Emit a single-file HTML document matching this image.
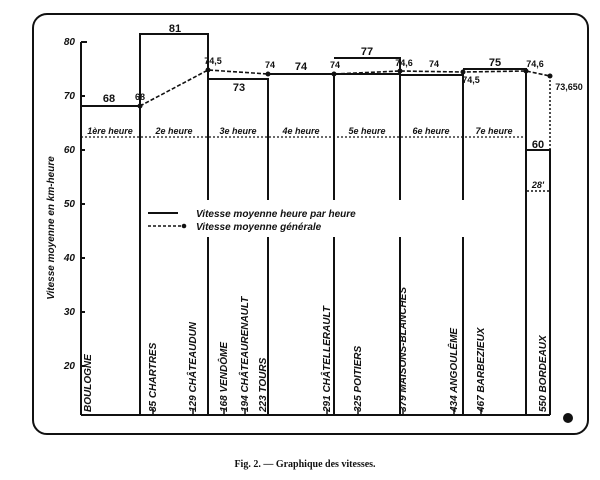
<!DOCTYPE html>
<html><head><meta charset="utf-8"><style>
html,body{margin:0;padding:0;background:#fff;}
svg{display:block}
text{font-family:"Liberation Sans",sans-serif;font-weight:bold;fill:#111}
.i{font-style:italic}
</style></head><body>
<svg width="600" height="480" viewBox="0 0 600 480">
<rect x="33" y="14" width="555" height="420" rx="14" fill="none" stroke="#111" stroke-width="2"/>
<circle cx="568" cy="418" r="5" fill="#111"/>
<g stroke="#111" stroke-width="2" fill="none">
<line x1="81" y1="42" x2="81" y2="415"/>
<line x1="81" y1="415" x2="550" y2="415"/>
<line x1="81" y1="42" x2="87" y2="42"/>
<line x1="81" y1="96" x2="85" y2="96"/>
<line x1="81" y1="150" x2="85" y2="150"/>
<line x1="81" y1="204" x2="85" y2="204"/>
<line x1="81" y1="258" x2="85" y2="258"/>
<line x1="81" y1="312" x2="85" y2="312"/>
<line x1="81" y1="366" x2="85" y2="366"/>
<polyline points="81,106 140,106"/>
<polyline points="140,415 140,34 208,34 208,200"/>
<polyline points="208,79 268,79 268,200"/>
<polyline points="268,74 334,74 334,200"/>
<polyline points="334,58 400,58 400,200"/>
<polyline points="400,75 463,75 463,200"/>
<polyline points="463,69 526,69 526,415"/>
<polyline points="526,150 550,150 550,415"/>
<line x1="268" y1="74" x2="400" y2="74"/>
<line x1="208" y1="237" x2="208" y2="415"/>
<line x1="268" y1="237" x2="268" y2="415"/>
<line x1="334" y1="237" x2="334" y2="415"/>
<line x1="400" y1="237" x2="400" y2="415"/>
<line x1="463" y1="237" x2="463" y2="415"/>
</g>
<polyline points="140,106 208,70 268,74 334,74 400,71 463,72 526,71 550,76" fill="none" stroke="#111" stroke-width="1.6" stroke-dasharray="4,2"/>
<g fill="#111"><circle cx="140" cy="106" r="2.5"/><circle cx="208" cy="70" r="2.5"/><circle cx="268" cy="74" r="2.5"/><circle cx="334" cy="74" r="2.5"/><circle cx="400" cy="71" r="2.5"/><circle cx="463" cy="72" r="2.5"/><circle cx="526" cy="71" r="2.5"/><circle cx="550" cy="76" r="2.5"/></g>
<line x1="550" y1="80" x2="550" y2="150" stroke="#111" stroke-width="1.5" stroke-dasharray="2,2"/>
<line x1="527" y1="191" x2="550" y2="191" stroke="#111" stroke-width="1.5" stroke-dasharray="2,2"/>
<line x1="81" y1="137" x2="526" y2="137" stroke="#111" stroke-width="1.3" stroke-dasharray="2,2"/>
<line x1="148" y1="213" x2="178" y2="213" stroke="#111" stroke-width="2"/>
<line x1="148" y1="226" x2="183" y2="226" stroke="#111" stroke-width="1.5" stroke-dasharray="3,2"/>
<circle cx="184" cy="226" r="2.3" fill="#111"/>
<g font-size="10"><text x="196" y="217" class="i">Vitesse moyenne heure par heure</text><text x="196" y="230" class="i">Vitesse moyenne générale</text></g>
<g font-size="10" text-anchor="end">
<text x="75" y="45" class="i">80</text><text x="75" y="99" class="i">70</text><text x="75" y="153" class="i">60</text><text x="75" y="207" class="i">50</text><text x="75" y="261" class="i">40</text><text x="75" y="315" class="i">30</text><text x="75" y="369" class="i">20</text>
</g>
<text transform="translate(54,228) rotate(-90)" font-size="10" class="i" text-anchor="middle">Vitesse moyenne en km-heure</text>
<g font-size="11" text-anchor="middle">
<text x="109" y="102">68</text><text x="175" y="32">81</text><text x="239" y="91">73</text><text x="301" y="70">74</text><text x="367" y="55">77</text><text x="495" y="66">75</text><text x="538" y="148">60</text>
</g>
<g font-size="9" text-anchor="middle">
<text x="140" y="100">68</text><text x="213" y="64">74,5</text><text x="270" y="68">74</text><text x="335" y="68">74</text><text x="404" y="66">74,6</text><text x="434" y="67">74</text><text x="471" y="83">74,5</text><text x="535" y="67">74,6</text><text x="569" y="90">73,650</text><text x="538" y="188" class="i">28'</text>
</g>
<g font-size="9" text-anchor="middle">
<text x="110" y="134" class="i">1ère heure</text><text x="174" y="134" class="i">2e heure</text><text x="238" y="134" class="i">3e heure</text><text x="301" y="134" class="i">4e heure</text><text x="367" y="134" class="i">5e heure</text><text x="431" y="134" class="i">6e heure</text><text x="494" y="134" class="i">7e heure</text>
</g>
<g stroke="#111" stroke-width="1.5">
<line x1="153" y1="409" x2="153" y2="415"/><line x1="193" y1="409" x2="193" y2="415"/><line x1="224" y1="409" x2="224" y2="415"/><line x1="245" y1="409" x2="245" y2="415"/><line x1="327" y1="409" x2="327" y2="415"/><line x1="358" y1="409" x2="358" y2="415"/><line x1="403" y1="409" x2="403" y2="415"/><line x1="454" y1="409" x2="454" y2="415"/><line x1="481" y1="409" x2="481" y2="415"/>
</g>
<g font-size="10">
<text transform="translate(91,412) rotate(-90)" class="i">BOULOGNE</text>
<text transform="translate(156,412) rotate(-90)" class="i">85 CHARTRES</text>
<text transform="translate(196,412) rotate(-90)" class="i">129 CHÂTEAUDUN</text>
<text transform="translate(227,412) rotate(-90)" class="i">168 VENDÔME</text>
<text transform="translate(248,412) rotate(-90)" class="i">194 CHÂTEAURENAULT</text>
<text transform="translate(266,412) rotate(-90)" class="i">223 TOURS</text>
<text transform="translate(330,412) rotate(-90)" class="i">291 CHÂTELLERAULT</text>
<text transform="translate(361,412) rotate(-90)" class="i">325 POITIERS</text>
<text transform="translate(406,412) rotate(-90)" class="i">379 MAISONS-BLANCHES</text>
<text transform="translate(457,412) rotate(-90)" class="i">434 ANGOULÊME</text>
<text transform="translate(484,412) rotate(-90)" class="i">467 BARBEZIEUX</text>
<text transform="translate(546,412) rotate(-90)" class="i">550 BORDEAUX</text>
</g>
<text x="305" y="467" font-size="10" text-anchor="middle" style="font-family:'Liberation Serif',serif">Fig. 2. — Graphique des vitesses.</text>
</svg>
</body></html>
